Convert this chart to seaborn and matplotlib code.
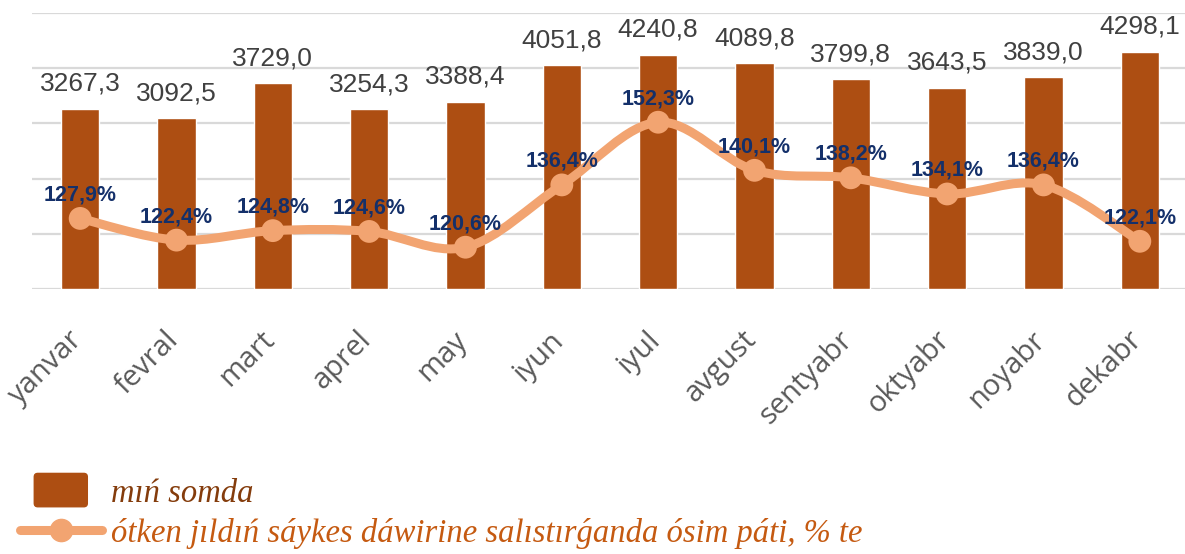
import matplotlib
matplotlib.use('Agg')
import matplotlib.pyplot as plt
import numpy as np
import pandas as pd
import seaborn as sns
from matplotlib.path import Path
from matplotlib.patches import PathPatch, Patch, FancyBboxPatch
from matplotlib.lines import Line2D
from matplotlib.legend_handler import HandlerPatch
import matplotlib.transforms as mtransforms

# data
months = ['yanvar', 'fevral', 'mart', 'aprel', 'may', 'iyun',
          'iyul', 'avgust', 'sentyabr', 'oktyabr', 'noyabr', 'dekabr']
volume = [3267.3, 3092.5, 3729.0, 3254.3, 3388.4, 4051.8,
          4240.8, 4089.8, 3799.8, 3643.5, 3839.0, 4298.1]
growth = [127.9, 122.4, 124.8, 124.6, 120.6, 136.4,
          152.3, 140.1, 138.2, 134.1, 136.4, 122.1]

bar_label = 'mıń somda'
line_label = 'ótken jıldıń sáykes dáwirine salıstırǵanda ósim páti, % te'

BAR_COLOR = '#AD4E12'
LINE_COLOR = '#F2A471'
PCT_COLOR = '#14306A'

sns.set_theme(style='white')
plt.rcParams['font.family'] = ['Open Sans', 'DejaVu Sans']

df = pd.DataFrame({'month': months, 'volume': volume, 'growth': growth})

fig = plt.figure(figsize=(11.85, 5.54), dpi=100)
ax = fig.add_axes([32 / 1185, 1 - 289 / 554, 1156 / 1185, 276 / 554])

sns.barplot(data=df, x='month', y='volume', color=BAR_COLOR, width=0.4,
            saturation=1, ax=ax, zorder=2)
ax.set_ylim(0, 5000)
ax.set_xlim(-0.5, 11.5)
ax.set_yticks(np.arange(0, 5001, 1000))
ax.yaxis.grid(True, color='#D9D9D9', linewidth=1.6)
ax.set_axisbelow(True)
ax.set_yticklabels([])
ax.tick_params(axis='both', length=0)
ax.set_xlabel('')
ax.set_ylabel('')
for s in ax.spines.values():
    s.set_visible(False)

ax.set_xticks(range(len(months)))
ax.set_xticklabels(months, rotation=45, ha='right', fontsize=21,
                   color='#595959')
ax.tick_params(axis='x', pad=26)
shift = mtransforms.ScaledTranslation(6 / 72, 0, fig.dpi_scale_trans)
for lab in ax.get_xticklabels():
    lab.set_transform(lab.get_transform() + shift)

for i, v in enumerate(volume):
    ax.annotate(f'{v:.1f}'.replace('.', ','), (i, v), xytext=(0, 13),
                textcoords='offset points', ha='center', va='baseline',
                fontsize=19, color='#404040',
                family=['Liberation Sans', 'DejaVu Sans'])

# secondary axis for growth
ax2 = ax.twinx()
ax2.set_ylim(110, 180)
ax2.set_xlim(-0.5, 11.5)
ax2.axis('off')

# smooth curve like spreadsheet "smoothed line"
xs = np.arange(len(growth), dtype=float)
ys = np.array(growth, dtype=float)
verts = [(xs[0], ys[0])]
codes = [Path.MOVETO]
n = len(xs)
for i in range(n - 1):
    p0 = np.array([xs[max(i - 1, 0)], ys[max(i - 1, 0)]])
    p1 = np.array([xs[i], ys[i]])
    p2 = np.array([xs[i + 1], ys[i + 1]])
    p3 = np.array([xs[min(i + 2, n - 1)], ys[min(i + 2, n - 1)]])
    c1 = p1 + (p2 - p0) / 6
    c2 = p2 - (p3 - p1) / 6
    verts += [tuple(c1), tuple(c2), tuple(p2)]
    codes += [Path.CURVE4] * 3
ax2.add_patch(PathPatch(Path(verts, codes), fill=False, edgecolor=LINE_COLOR,
                        lw=6.5, capstyle='round', joinstyle='round', zorder=3))
sns.scatterplot(x=xs, y=ys, s=270, color=LINE_COLOR, edgecolor='none',
                ax=ax2, zorder=4, legend=False)
ax2.set_ylim(110, 180)
ax2.set_xlim(-0.5, 11.5)

for i, g in enumerate(growth):
    ax2.annotate(f'{g:.1f}'.replace('.', ',') + '%', (i, g), xytext=(0, 13),
                 textcoords='offset points', ha='center', va='baseline',
                 fontsize=15.5, fontweight='bold', color=PCT_COLOR,
                 family=['Liberation Sans', 'DejaVu Sans'], zorder=5)


def make_box(legend, orig_handle, xdescent, ydescent, width, height, fontsize):
    w = 0.65 * width
    h = 24
    cx = width / 2 - xdescent
    cy = height / 2 - ydescent
    return FancyBboxPatch((cx - w / 2, cy - h / 2), w, h,
                          boxstyle='round,pad=0,rounding_size=2.5')


handles = [Patch(color=BAR_COLOR),
           Line2D([], [], color=LINE_COLOR, lw=6.5, marker='o',
                  markersize=16, solid_capstyle='round')]
leg = fig.legend(handles, [bar_label, line_label], loc='upper left',
                 bbox_to_anchor=(20 / 1185, 1 - 478 / 554), frameon=False,
                 handlelength=2.5, handletextpad=0.3, labelspacing=0.28,
                 borderpad=0, borderaxespad=0,
                 handler_map={Patch: HandlerPatch(patch_func=make_box)},
                 prop={'family': ['Liberation Serif', 'DejaVu Serif'],
                       'style': 'italic', 'size': 23.5})
leg.get_texts()[0].set_color('#843C0C')
leg.get_texts()[1].set_color('#C55A11')

fig.savefig('out.png', dpi=100)
